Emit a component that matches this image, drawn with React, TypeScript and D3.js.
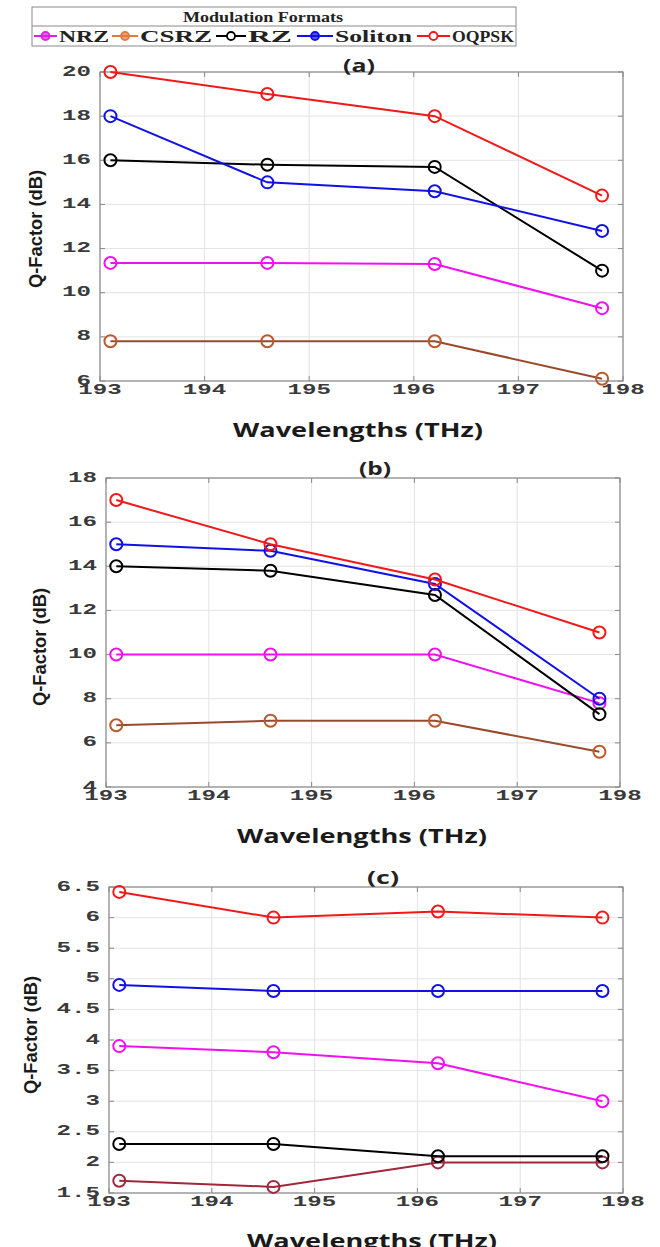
import React from "react";
import * as d3 from "d3";

// ---------- data ----------
const wavelengths = [193.1, 194.6, 196.2, 197.8];
const seriesNames = ["NRZ", "CSRZ", "RZ", "Soliton", "OQPSK"];
const xTicks = [193, 194, 195, 196, 197, 198];

// panel (a)
const aNRZ = [11.35, 11.35, 11.3, 9.3];
const aCSRZ = [7.8, 7.8, 7.8, 6.1];
const aRZ = [16.0, 15.8, 15.7, 11.0];
const aSoliton = [18.0, 15.0, 14.6, 12.8];
const aOQPSK = [20.0, 19.0, 18.0, 14.4];
const aYTicks = [6, 8, 10, 12, 14, 16, 18, 20];

// panel (b)
const bNRZ = [10.0, 10.0, 10.0, 7.8];
const bCSRZ = [6.8, 7.0, 7.0, 5.6];
const bRZ = [14.0, 13.8, 12.7, 7.3];
const bSoliton = [15.0, 14.7, 13.2, 8.0];
const bOQPSK = [17.0, 15.0, 13.4, 11.0];
const bYTicks = [4, 6, 8, 10, 12, 14, 16, 18];

// panel (c)
const cNRZ = [3.9, 3.8, 3.62, 3.0];
const cCSRZ = [1.7, 1.6, 2.0, 2.0];
const cRZ = [2.3, 2.3, 2.1, 2.1];
const cSoliton = [4.9, 4.8, 4.8, 4.8];
const cOQPSK = [6.42, 6.0, 6.1, 6.0];
const cYTicks = [1.5, 2, 2.5, 3, 3.5, 4, 4.5, 5, 5.5, 6, 6.5];

// ---------- styles ----------
const lineColors: Record<string, string> = {
  NRZ: "#f010f0",
  CSRZ: "#9a4a2c",
  RZ: "#000000",
  Soliton: "#1010e8",
  OQPSK: "#f01818",
};
const markerColors: Record<string, string> = {
  NRZ: "#f010f0",
  CSRZ: "#b85a2c",
  RZ: "#000000",
  Soliton: "#1010e8",
  OQPSK: "#f01818",
};
const legendColors: Record<string, string> = {
  NRZ: "#e020e0",
  CSRZ: "#e07a40",
  RZ: "#000000",
  Soliton: "#1010e8",
  OQPSK: "#f01818",
};

const tickFont = "'Liberation Mono', 'DejaVu Sans Mono', monospace";
const labelFont = "'Open Sans', 'DejaVu Sans', sans-serif";
const narrowFont = "'Liberation Sans Narrow', 'Liberation Sans', Arial, sans-serif";
const serifFont = "'Liberation Serif', 'Times New Roman', serif";

type Panel = {
  x0: number; x1: number; y0: number; y1: number;
  yDomain: [number, number];
  yTicks: number[];
  title: string; titleX: number; titleY: number;
  xlabX: number; xlabY: number;
  ylabX: number; ylabY: number;
  series: Record<string, number[]>;
  csrzColor?: string;
};

const panels: Panel[] = [
  {
    x0: 100, x1: 623, y0: 72, y1: 381, yDomain: [6, 20], yTicks: aYTicks,
    title: "(a)", titleX: 359, titleY: 65, xlabX: 358, xlabY: 429, ylabX: 36, ylabY: 229,
    series: { NRZ: aNRZ, CSRZ: aCSRZ, RZ: aRZ, Soliton: aSoliton, OQPSK: aOQPSK },
  },
  {
    x0: 106, x1: 620, y0: 478, y1: 787, yDomain: [4, 18], yTicks: bYTicks,
    title: "(b)", titleX: 375, titleY: 468, xlabX: 362, xlabY: 835, ylabX: 40, ylabY: 647,
    series: { NRZ: bNRZ, CSRZ: bCSRZ, RZ: bRZ, Soliton: bSoliton, OQPSK: bOQPSK },
  },
  {
    x0: 109, x1: 623, y0: 887, y1: 1193, yDomain: [1.5, 6.5], yTicks: cYTicks,
    title: "(c)", titleX: 383, titleY: 877, xlabX: 372, xlabY: 1240, ylabX: 31, ylabY: 1035,
    series: { NRZ: cNRZ, CSRZ: cCSRZ, RZ: cRZ, Soliton: cSoliton, OQPSK: cOQPSK },
    csrzColor: "#a0283a",
  },
];

// draw order (back to front)
const drawOrder = ["CSRZ", "NRZ", "RZ", "Soliton", "OQPSK"];

function PanelView({ p }: { p: Panel }) {
  const x = d3.scaleLinear().domain([193, 198]).range([p.x0, p.x1]);
  const y = d3.scaleLinear().domain(p.yDomain).range([p.y1, p.y0]);
  const line = d3
    .line<[number, number]>()
    .x((d) => x(d[0]))
    .y((d) => y(d[1]));
  const fmt = (v: number) => String(v);
  return (
    <g>
      <rect x={p.x0} y={p.y0} width={p.x1 - p.x0} height={p.y1 - p.y0} fill="#ffffff" />
      {xTicks.map((t) => (
        <line key={"gx" + t} x1={x(t)} x2={x(t)} y1={p.y0} y2={p.y1} stroke="#e3e3e3" strokeWidth={1} />
      ))}
      {p.yTicks.map((t) => (
        <line key={"gy" + t} x1={p.x0} x2={p.x1} y1={y(t)} y2={y(t)} stroke="#e3e3e3" strokeWidth={1} />
      ))}
      {/* inside ticks */}
      {xTicks.map((t) => (
        <g key={"tx" + t}>
          <line x1={x(t)} x2={x(t)} y1={p.y1} y2={p.y1 - 5} stroke="#888" />
          <line x1={x(t)} x2={x(t)} y1={p.y0} y2={p.y0 + 5} stroke="#888" />
        </g>
      ))}
      {p.yTicks.map((t) => (
        <g key={"ty" + t}>
          <line x1={p.x0} x2={p.x0 + 5} y1={y(t)} y2={y(t)} stroke="#888" />
          <line x1={p.x1} x2={p.x1 - 5} y1={y(t)} y2={y(t)} stroke="#888" />
        </g>
      ))}
      <rect x={p.x0} y={p.y0} width={p.x1 - p.x0} height={p.y1 - p.y0} fill="none" stroke="#8a8a8a" strokeWidth={1.2} />
      {/* tick labels */}
      {xTicks.map((t) => (
        <text
          key={"lx" + t}
          x={x(t)}
          y={p.y1 + 9}
          textAnchor="middle"
          dominantBaseline="central"
          fontFamily={tickFont}
          fontWeight="bold"
          fontSize={15}
          fill="#3a3a3a"
          textLength={fmt(t).length * 14.5}
          lengthAdjust="spacingAndGlyphs"
        >
          {fmt(t)}
        </text>
      ))}
      {p.yTicks.map((t) => (
        <text
          key={"ly" + t}
          x={p.x0 - 9}
          y={y(t)}
          textAnchor="end"
          dominantBaseline="central"
          fontFamily={tickFont}
          fontWeight="bold"
          fontSize={15}
          fill="#3a3a3a"
          textLength={fmt(t).length * 14.5}
          lengthAdjust="spacingAndGlyphs"
        >
          {fmt(t)}
        </text>
      ))}
      {/* series */}
      {drawOrder.map((name) => {
        const vals = p.series[name];
        const pts: [number, number][] = wavelengths.map((w, i) => [w, vals[i]]);
        const lc = name === "CSRZ" && p.csrzColor ? p.csrzColor : lineColors[name];
        const mc = name === "CSRZ" && p.csrzColor ? p.csrzColor : markerColors[name];
        return (
          <g key={name}>
            <path d={line(pts) || ""} fill="none" stroke={lc} strokeWidth={2} />
            {pts.map((d, i) => (
              <circle key={i} cx={x(d[0])} cy={y(d[1])} r={6} fill="none" stroke={mc} strokeWidth={2} />
            ))}
          </g>
        );
      })}
      {/* titles and labels */}
      <text x={p.titleX} y={p.titleY} textAnchor="middle" dominantBaseline="central" fontFamily={labelFont} fontWeight="bold" fontSize={17} fill="#222" textLength={32} lengthAdjust="spacingAndGlyphs">
        {p.title}
      </text>
      <text x={p.xlabX} y={p.xlabY} textAnchor="middle" dominantBaseline="central" fontFamily={labelFont} fontWeight="bold" fontSize={20} fill="#1a1a1a" textLength={250} lengthAdjust="spacingAndGlyphs">
        Wavelengths (THz)
      </text>
      <text
        transform={`translate(${p.ylabX},${p.ylabY}) rotate(-90)`}
        textAnchor="middle"
        dominantBaseline="central"
        fontFamily={narrowFont}
        fontWeight="bold"
        fontSize={18}
        fill="#1a1a1a"
        textLength={118}
        lengthAdjust="spacingAndGlyphs"
      >
        Q-Factor (dB)
      </text>
    </g>
  );
}

// legend layout (positions only)
const legendLayout: Record<string, { l0: number; l1: number; t0: number; t1: number; filled: boolean }> = {
  NRZ: { l0: 34, l1: 57, t0: 59, t1: 109, filled: true },
  CSRZ: { l0: 112, l1: 138, t0: 140, t1: 212, filled: true },
  RZ: { l0: 216, l1: 246, t0: 248, t1: 292, filled: false },
  Soliton: { l0: 297, l1: 333, t0: 335, t1: 412, filled: true },
  OQPSK: { l0: 417, l1: 450, t0: 452, t1: 514, filled: false },
};

function Legend() {
  const bx = 32, by = 7, bw = 484, bh = 39, div = 26;
  return (
    <g>
      <rect x={bx} y={by} width={bw} height={bh} fill="#fff" stroke="#8a8a8a" strokeWidth={1} />
      <line x1={bx} x2={bx + bw} y1={div} y2={div} stroke="#8a8a8a" strokeWidth={1} />
      <text x={263} y={17} textAnchor="middle" dominantBaseline="central" fontFamily={serifFont} fontWeight="bold" fontSize={14} fill="#222" textLength={160} lengthAdjust="spacingAndGlyphs">
        Modulation Formats
      </text>
      {seriesNames.map((name) => {
        const L = legendLayout[name];
        const c = legendColors[name];
        const cy = 36;
        return (
          <g key={name}>
            <line x1={L.l0} x2={L.l1} y1={cy} y2={cy} stroke={c} strokeWidth={2} />
            <circle cx={(L.l0 + L.l1) / 2} cy={cy} r={4} fill={L.filled ? c : "#fff"} fillOpacity={L.filled ? 0.7 : 1} stroke={c} strokeWidth={1.8} />
            <text x={L.t0} y={cy + 0.5} dominantBaseline="central" fontFamily={serifFont} fontWeight="bold" fontSize={16} fill="#222" textLength={L.t1 - L.t0} lengthAdjust="spacingAndGlyphs">
              {name}
            </text>
          </g>
        );
      })}
    </g>
  );
}

export default function App() {
  return (
    <div style={{ position: "absolute", left: 0, top: 0 }}>
      <svg width={660} height={1247} viewBox="0 0 660 1247" style={{ display: "block", background: "#fff" }}>
        <Legend />
        {panels.map((p, i) => (
          <PanelView key={i} p={p} />
        ))}
      </svg>
    </div>
  );
}
